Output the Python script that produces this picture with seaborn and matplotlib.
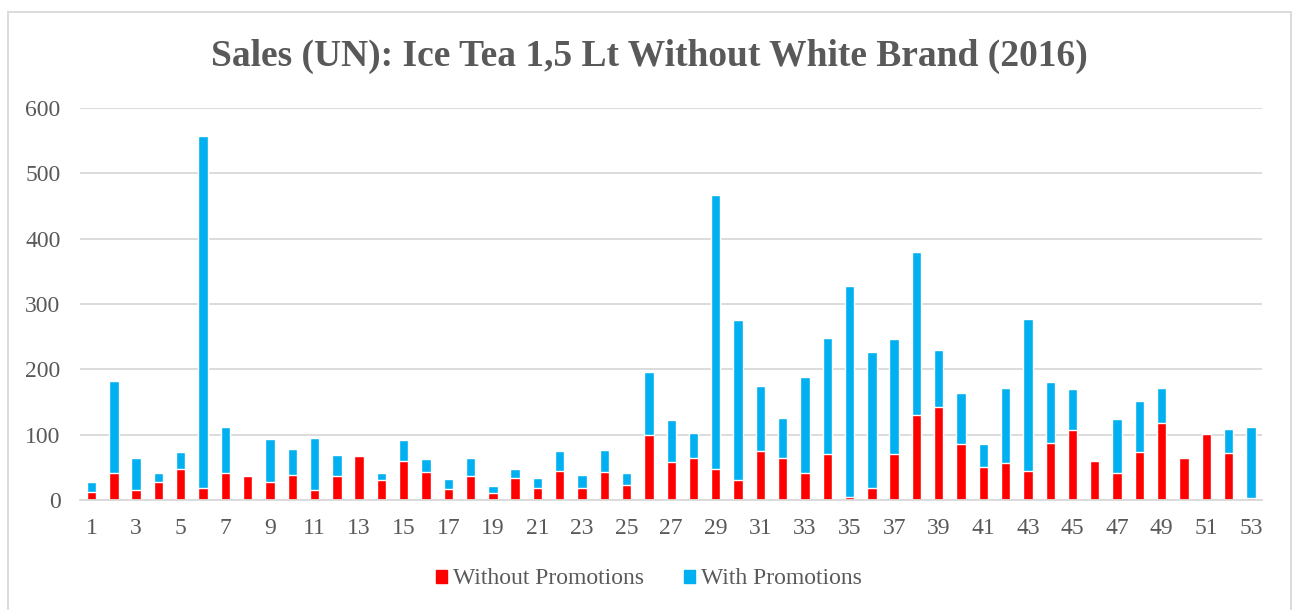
import matplotlib
matplotlib.use("Agg")
import matplotlib.pyplot as plt
import matplotlib.patches as mpatches
import seaborn as sns
import pandas as pd

# Weekly unit sales, 2016
weeks = list(range(1, 54))
without_promotions = [12, 41, 16, 27, 48, 19, 42, 37, 27, 38, 16, 36, 67,
                      31, 60, 43, 17, 37, 10, 33, 19, 44, 19, 43, 23, 100,
                      58, 64, 48, 31, 75, 64, 42, 71, 5, 18, 70, 130, 143,
                      86, 51, 56, 45, 88, 107, 59, 42, 74, 118, 65, 101, 72, 3]
with_promotions = [16, 141, 49, 15, 25, 538, 69, 0, 67, 40, 79, 33, 0,
                   11, 32, 19, 15, 28, 11, 15, 14, 31, 20, 33, 18, 96,
                   65, 39, 419, 244, 99, 62, 147, 177, 323, 208, 176, 250, 87,
                   78, 35, 116, 232, 92, 63, 2, 82, 78, 54, 0, 0, 37, 109]

RED = "#FF0000"
BLUE = "#00B0F0"
GREY = "#595959"

sns.set_theme(style="white")
plt.rcParams["font.family"] = ["Liberation Serif", "DejaVu Serif"]

df = pd.DataFrame({
    "week": [str(w) for w in weeks],
    "without": without_promotions,
    "total": [a + b for a, b in zip(without_promotions, with_promotions)],
})

fig = plt.figure(figsize=(12.98, 6.10), dpi=100)
ax = fig.add_axes([80 / 1298, 1 - 500 / 610, (1262 - 80) / 1298, (500 - 108) / 610])

sns.barplot(data=df, x="week", y="total", color=BLUE, width=0.42,
            saturation=1, ax=ax, label="With Promotions")
sns.barplot(data=df, x="week", y="without", color=RED, width=0.42,
            saturation=1, ax=ax, label="Without Promotions")

ax.set_ylim(0, 600)
ax.set_xlim(-0.52, 52.5)
ax.set_yticks(range(0, 601, 100))
ax.yaxis.grid(True, color="#D9D9D9", linewidth=1.3)
ax.set_axisbelow(True)
for s in ["top", "right", "left"]:
    ax.spines[s].set_visible(False)
ax.spines["bottom"].set_color("#D9D9D9")
ax.spines["bottom"].set_linewidth(1.3)
ax.set_xlabel("")
ax.set_ylabel("")

ax.set_xticks(range(0, 53, 2))
ax.set_xticklabels([str(w) for w in weeks[::2]])
ax.tick_params(axis="both", length=0, labelsize=17, colors=GREY)
ax.tick_params(axis="x", pad=13)
ax.tick_params(axis="y", pad=14)

if ax.legend_:
    ax.legend_.remove()
handles = [mpatches.Patch(color=RED, label="Without Promotions"),
           mpatches.Patch(color=BLUE, label="With Promotions")]
fig.legend(handles=handles, loc="center", bbox_to_anchor=(0.5, 1 - 579 / 610),
           ncol=2, frameon=False, fontsize=17, labelcolor=GREY,
           handlelength=0.48, handleheight=0.48, handletextpad=0.25,
           columnspacing=1.7)

fig.text(0.5, 1 - 56 / 610, "Sales (UN): Ice Tea 1,5 Lt Without White Brand (2016)",
         ha="center", va="center", fontsize=27, fontweight="bold", color=GREY)

# outer chart frame
fig.patches.append(mpatches.Rectangle((8 / 1298, -0.02), (1291 - 8) / 1298, 1 - 12 / 610 + 0.02,
                                      transform=fig.transFigure, fill=False,
                                      edgecolor="#D9D9D9", linewidth=1.3))

fig.savefig("out.png", dpi=100, facecolor="white")
